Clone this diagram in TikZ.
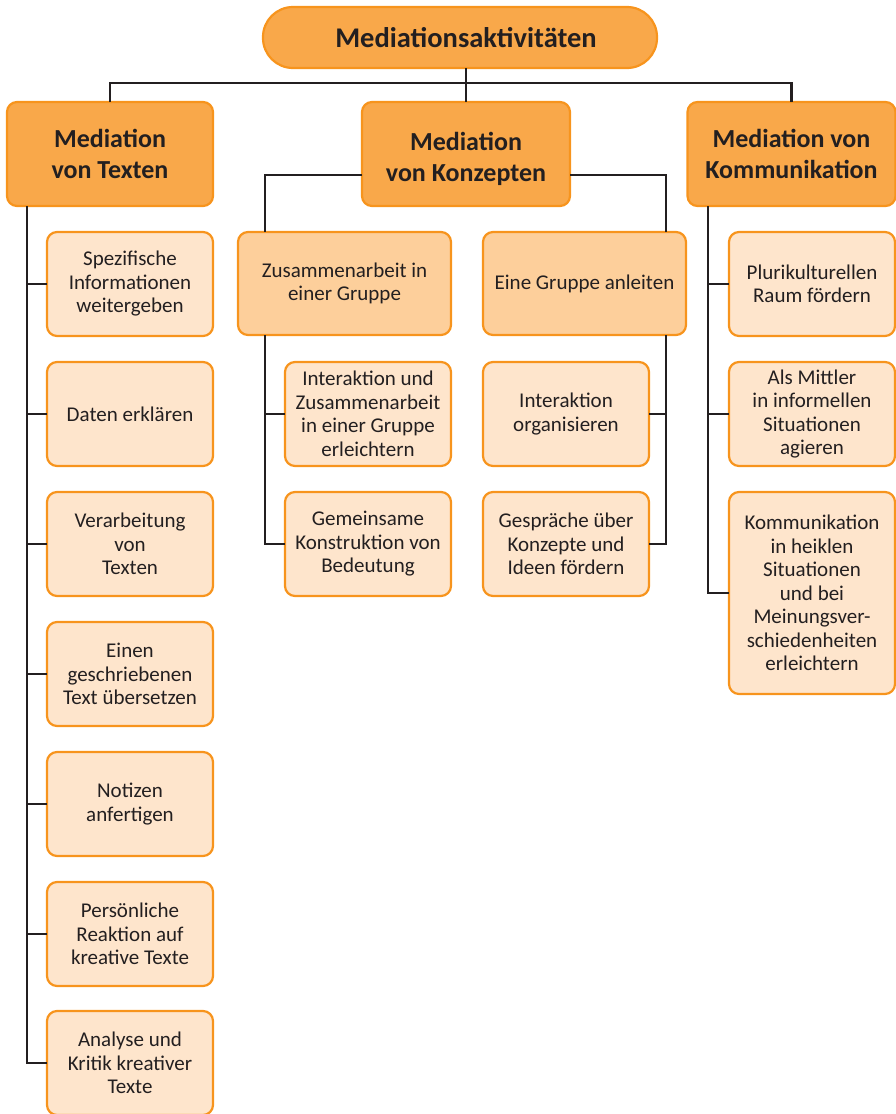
\documentclass[tikz,border=0pt]{standalone}
\usepackage{fontspec}
\setmainfont{Carlito}
\definecolor{bordc}{RGB}{247,148,29}
\definecolor{fillA}{RGB}{249,168,74}
\definecolor{fillB}{RGB}{253,207,155}
\definecolor{fillC}{RGB}{254,229,204}
\definecolor{txt}{RGB}{35,31,32}
\definecolor{linec}{RGB}{35,31,32}
\tikzset{
  box/.style={draw=bordc, line width=2.2pt, rounded corners=10pt, align=center, inner sep=2pt, outer sep=0pt, text=txt},
  topbox/.style={box, fill=fillA, rounded corners=30pt, font=\fontsize{28.5}{32}\selectfont\bfseries},
  lvlone/.style={box, fill=fillA, font=\fontsize{26}{31}\selectfont\bfseries},
  lvltwo/.style={box, fill=fillB, font=\fontsize{21}{23.5}\selectfont},
  lvlthree/.style={box, fill=fillC, font=\fontsize{21}{23.5}\selectfont},
  conn/.style={draw=linec, line width=2.2pt},
}
\begin{document}
\begin{tikzpicture}[x=1pt,y=-1pt]
\useasboundingbox (0,0) rectangle (896,1114);
% top
\node[topbox, minimum width=394, minimum height=61] (top) at (460,37.5) {\hspace*{12pt}Mediationsaktivitäten};
% level 1
\node[lvlone, minimum width=206, minimum height=104] (t) at (110,154) {Mediation\\von Texten};
\node[lvlone, minimum width=208, minimum height=104] (k) at (466,154) {\rule{0pt}{28pt}Mediation\\von Konzepten};
\node[lvlone, minimum width=208, minimum height=104] (c) at (791.5,154) {Mediation von\\Kommunikation};
% Texten children
\node[lvlthree, minimum width=166, minimum height=104] (t1) at (130,284) {Spezifische\\Informationen\\weitergeben};
\node[lvlthree, minimum width=166, minimum height=104] (t2) at (130,414) {Daten erklären};
\node[lvlthree, minimum width=166, minimum height=104] (t3) at (130,544) {Verarbeitung\\von\\Texten};
\node[lvlthree, minimum width=166, minimum height=104] (t4) at (130,674) {Einen\\geschriebenen\\Text übersetzen};
\node[lvlthree, minimum width=166, minimum height=104] (t5) at (130,804) {Notizen\\anfertigen};
\node[lvlthree, minimum width=166, minimum height=104] (t6) at (130,934) {Persönliche\\Reaktion auf\\kreative Texte};
\node[lvlthree, minimum width=166, minimum height=104] (t7) at (130,1063) {Analyse und\\Kritik kreativer\\Texte};
% Konzepte children
\node[lvltwo, minimum width=213, minimum height=103] (z) at (344.5,283.5) {Zusammenarbeit in\\einer Gruppe};
\node[lvltwo, minimum width=203, minimum height=103] (e) at (584.5,283.5) {Eine Gruppe anleiten};
\node[lvlthree, minimum width=166, minimum height=104] (z1) at (368,414) {Interaktion und\\Zusammenarbeit\\in einer Gruppe\\erleichtern};
\node[lvlthree, minimum width=166, minimum height=104] (z2) at (368,544) {Gemeinsame\\Konstruktion von\\Bedeutung};
\node[lvlthree, minimum width=166, minimum height=104] (e1) at (566,414) {Interaktion\\organisieren};
\node[lvlthree, minimum width=166, minimum height=104] (e2) at (566,544) {Gespräche über\\Konzepte und\\Ideen fördern};
% Kommunikation children
\node[lvlthree, minimum width=166, minimum height=104] (c1) at (812,284) {Plurikulturellen\\Raum fördern};
\node[lvlthree, minimum width=166, minimum height=104] (c2) at (812,414) {Als Mittler\\in informellen\\Situationen\\agieren};
\node[lvlthree, minimum width=166, minimum height=202] (c3) at (812,593) {Kommunikation\\in heiklen\\Situationen\\und bei\\Meinungsver-\\schiedenheiten\\erleichtern};
% helper coordinates
\coordinate (bus) at (0,83);
\coordinate (tsp) at (27,0);
\coordinate (zsp) at (265,0);
\coordinate (esp) at (666,0);
\coordinate (csp) at (708,0);
% top connectors
\draw[conn] (top.south -| k.north) -- (k.north);
\draw[conn] (t.north) |- (bus -| k.north) -| (c.north);
% Texten spine
\draw[conn] (t.south -| tsp) |- (t7.west);
\foreach \i in {1,...,6} \draw[conn] (tsp |- t\i.west) -- (t\i.west);
% Konzepte
\draw[conn] ([yshift=-21pt]k.west) -| (zsp |- z.north);
\draw[conn] ([yshift=-21pt]k.east) -| (esp |- e.north);
\draw[conn] (zsp |- z.south) |- (z2.west);
\draw[conn] (zsp |- z1.west) -- (z1.west);
\draw[conn] (esp |- e.south) |- (e2.east);
\draw[conn] (esp |- e1.east) -- (e1.east);
% Kommunikation
\draw[conn] (c.south -| csp) |- (c3.west);
\draw[conn] (csp |- c1.west) -- (c1.west);
\draw[conn] (csp |- c2.west) -- (c2.west);
\end{tikzpicture}
\end{document}
